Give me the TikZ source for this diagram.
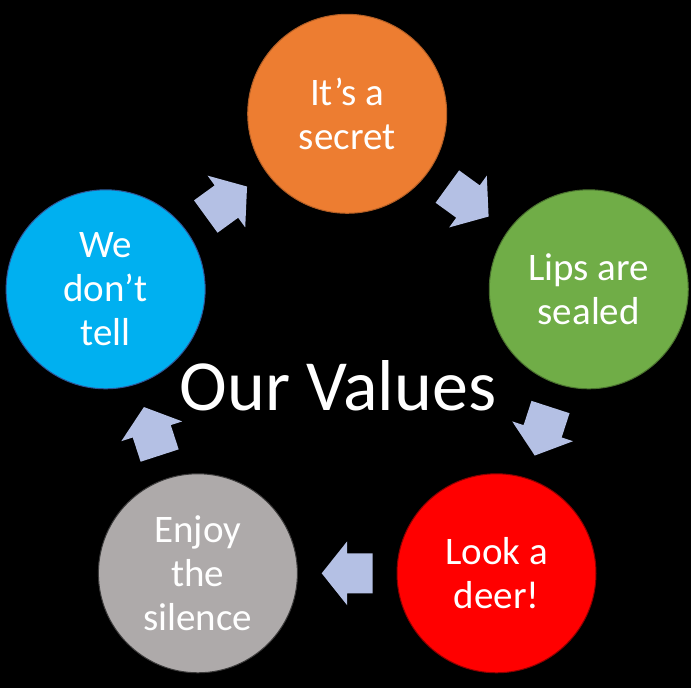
\documentclass[tikz,border=0pt]{standalone}
\usepackage{fontspec}
\setmainfont{Carlito}
\usetikzlibrary{calc}
\definecolor{arrowfill}{RGB}{180,192,228}
\definecolor{corange}{HTML}{ED7D31}
\definecolor{cgreen}{HTML}{70AD47}
\definecolor{cred}{HTML}{FF0000}
\definecolor{cgray}{HTML}{AEAAAA}
\definecolor{cblue}{HTML}{00B0F0}
\definecolor{bblue}{RGB}{47,85,151}
\tikzset{
  circ/.style={circle, minimum size=199pt, inner sep=0pt, line width=1pt,
    text=white, align=center, font=\fontsize{39}{44}\selectfont},
  blockarr/.pic={\fill[arrowfill] (-25.5pt,-20pt) -- (0pt,-20pt) -- (0pt,-32pt) -- (25.5pt,0pt) -- (0pt,32pt) -- (0pt,20pt) -- (-25.5pt,20pt) -- cycle;}
}
\begin{document}
\begin{tikzpicture}[x=1pt,y=1pt]
\fill[black] (0,0) rectangle (691,688);
\useasboundingbox (0,0) rectangle (691,688);
\coordinate (o) at (347.2,320.2);
\node[circ, fill=corange, draw=corange!75!black] (c1) at ($(o)+(90:254pt)$) {It’s a\\secret};
\node[circ, fill=cgreen, draw=cgreen!65!black] (c2) at ($(o)+(18:254pt)$) {Lips are\\sealed};
\node[circ, fill=cred, draw=cred!55!black] (c3) at ($(o)+(-54:254pt)$) {Look a\\deer!};
\node[circ, fill=cgray, draw=cgray!35!black] (c4) at ($(o)+(-126:254pt)$) {Enjoy\\the\\silence};
\node[circ, fill=cblue, draw=bblue] (c5) at ($(o)+(162:254pt)$) {We\\don’t\\tell};
\pic[rotate=-36] at ($(c1)!0.5!(c2)$) {blockarr};
\pic[rotate=-108] at ($(c2)!0.5!(c3)$) {blockarr};
\pic[rotate=180] at ($(c3)!0.5!(c4)$) {blockarr};
\pic[rotate=108] at ($(c4)!0.5!(c5)$) {blockarr};
\pic[rotate=36] at ($(c5)!0.5!(c1)$) {blockarr};
\node[anchor=base, text=white, font=\fontsize{72}{80}\selectfont, inner sep=0pt] (title) at (338,277) {Our Values};
\end{tikzpicture}
\end{document}
